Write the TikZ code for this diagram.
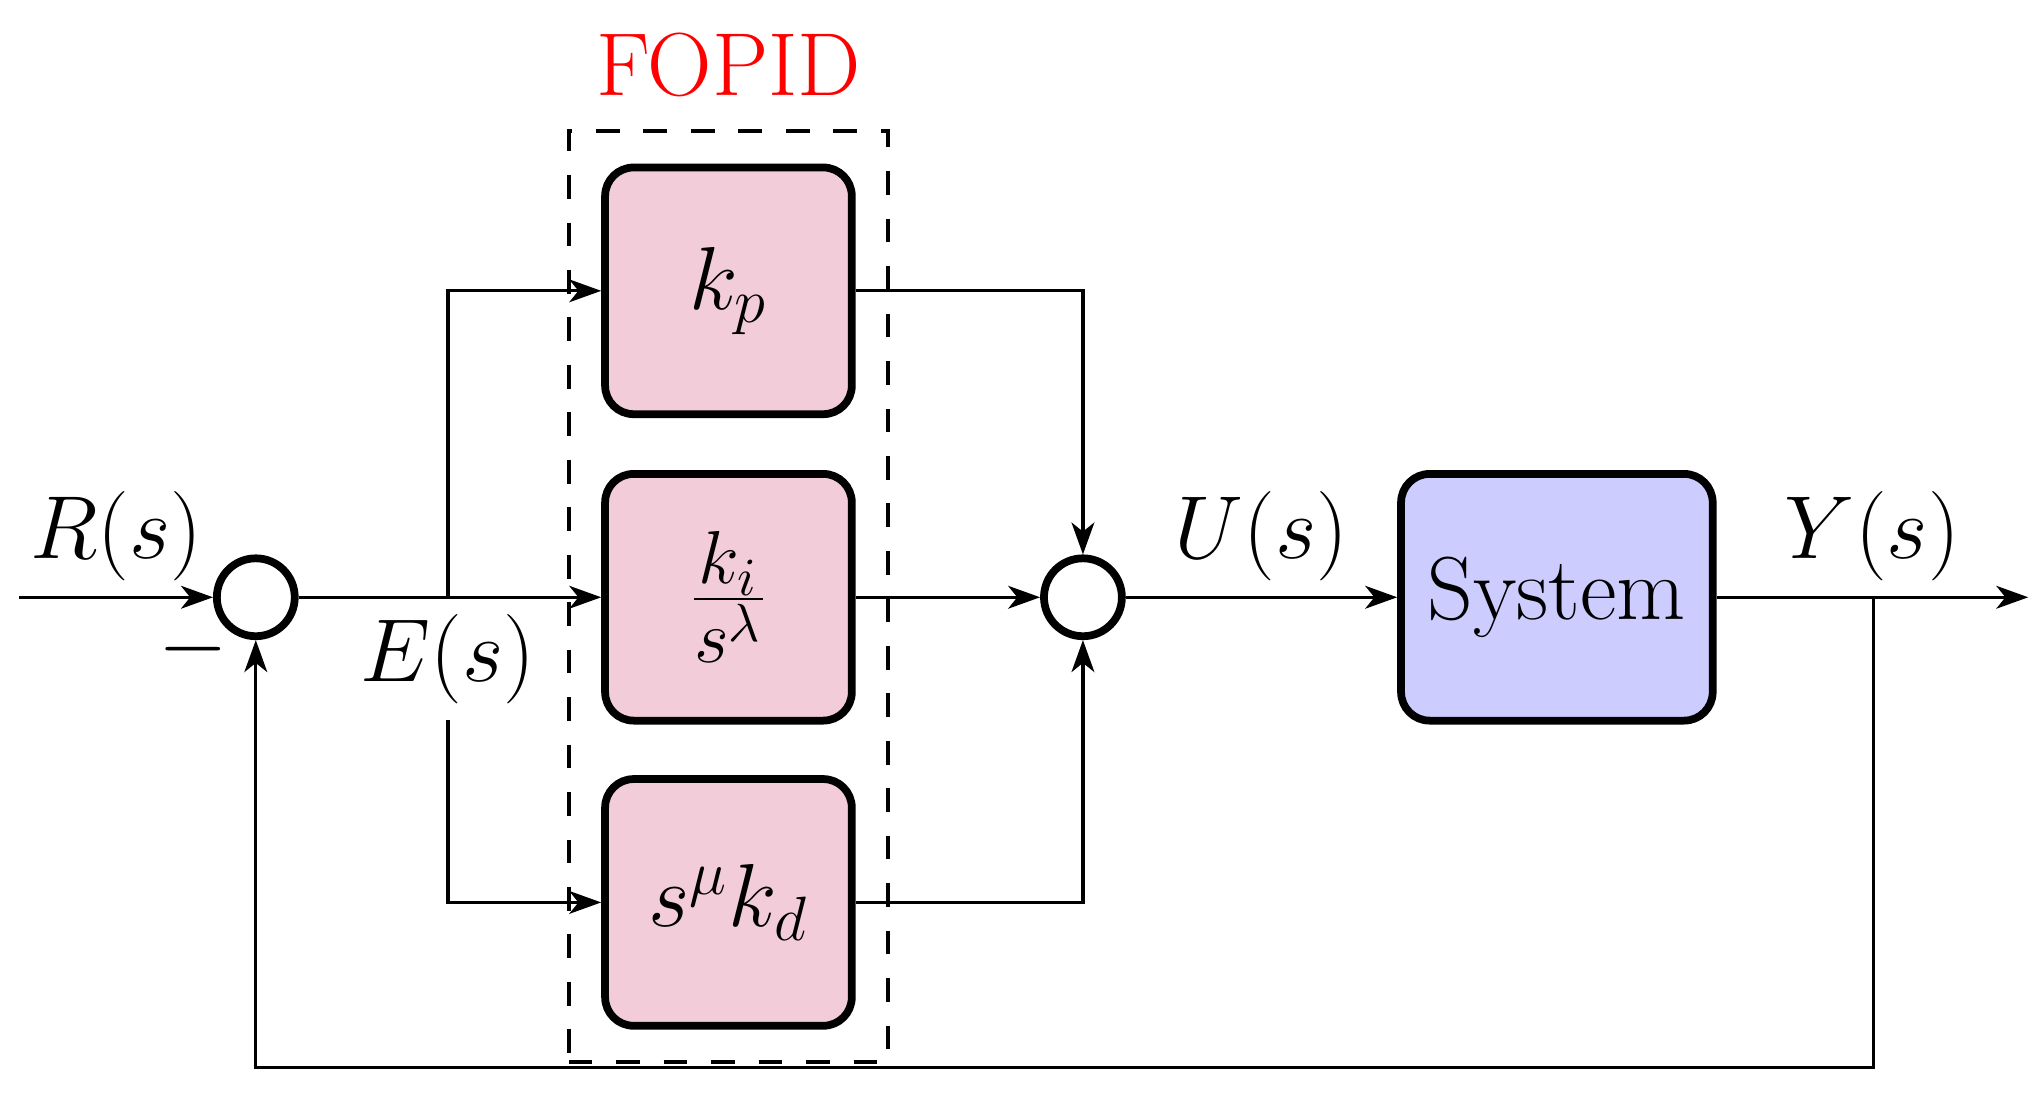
\RequirePackage{fix-cm}
\documentclass[tikz,border=0pt]{standalone}
\usetikzlibrary{positioning,fit,arrows.meta}

\begin{document}
\begin{tikzpicture}[
  every node/.style={font=\fontsize{19.6}{24}\selectfont},
  >={Stealth[length=7pt,width=5pt,inset=2pt]},
  line width=0.7pt,
  blk/.style={draw, line width=1.7pt, rounded corners=0.22cm, minimum width=1.9cm, minimum height=1.9cm, fill=purple!20},
  sumcirc/.style={draw, circle, line width=1.7pt, minimum size=0.6cm, inner sep=0pt}
]
\useasboundingbox (0,0) rectangle (15.68,8.41);
% summing junctions
\node[sumcirc] (sum1) at (1.97,3.81) {};
\node[sumcirc] (sum2) at (8.34,3.81) {};
% controller blocks
\node[blk] (kp) at (5.61,6.17) {$k_p$};
\node[blk, font=\fontsize{23.5}{28}\selectfont] (ki) at (5.61,3.81) {$\frac{k_i}{s^\lambda}$};
\node[blk] (kd) at (5.61,1.46) {$s^\mu k_d$};
\node[blk, fill=blue!20, minimum width=2.4cm] (sys) at (11.99,3.81) {System};
% dashed frame
\node[draw, thick, dash pattern=on 5.2pt off 5.2pt, fit=(kp)(kd), inner sep=0.25cm] (fopid) {};
\node[red, above=0.12cm of fopid] (fopidlbl) {FOPID};

\coordinate (in) at (0.15,3.81);
\coordinate (out) at (15.62,3.81);
\coordinate (eb) at (3.45,3.81);
\coordinate (yb) at (14.43,3.81);
\coordinate (fb) at (14.43,0.19);

\draw[->] (in) -- node[above] (rs) {$R(s)$} (sum1);
\draw[->] (sum1) -- (ki);
\node[below] (es) at (eb) {$E(s)$};
\draw[->] (eb) |- (kp);
\draw[->] (es) |- (kd);
\draw[->] (kp) -| (sum2);
\draw[->] (ki) -- (sum2);
\draw[->] (kd) -| (sum2);
\draw[->] (sum2) -- node[above] (us) {$U(s)$} (sys);
\draw[->] (sys) -- node[above] (ys) {$Y(s)$} (out);
\draw[->] (yb) -- (fb) -| (sum1);
\node (minus) at (1.485,3.41) {$-$};
\end{tikzpicture}
\end{document}
